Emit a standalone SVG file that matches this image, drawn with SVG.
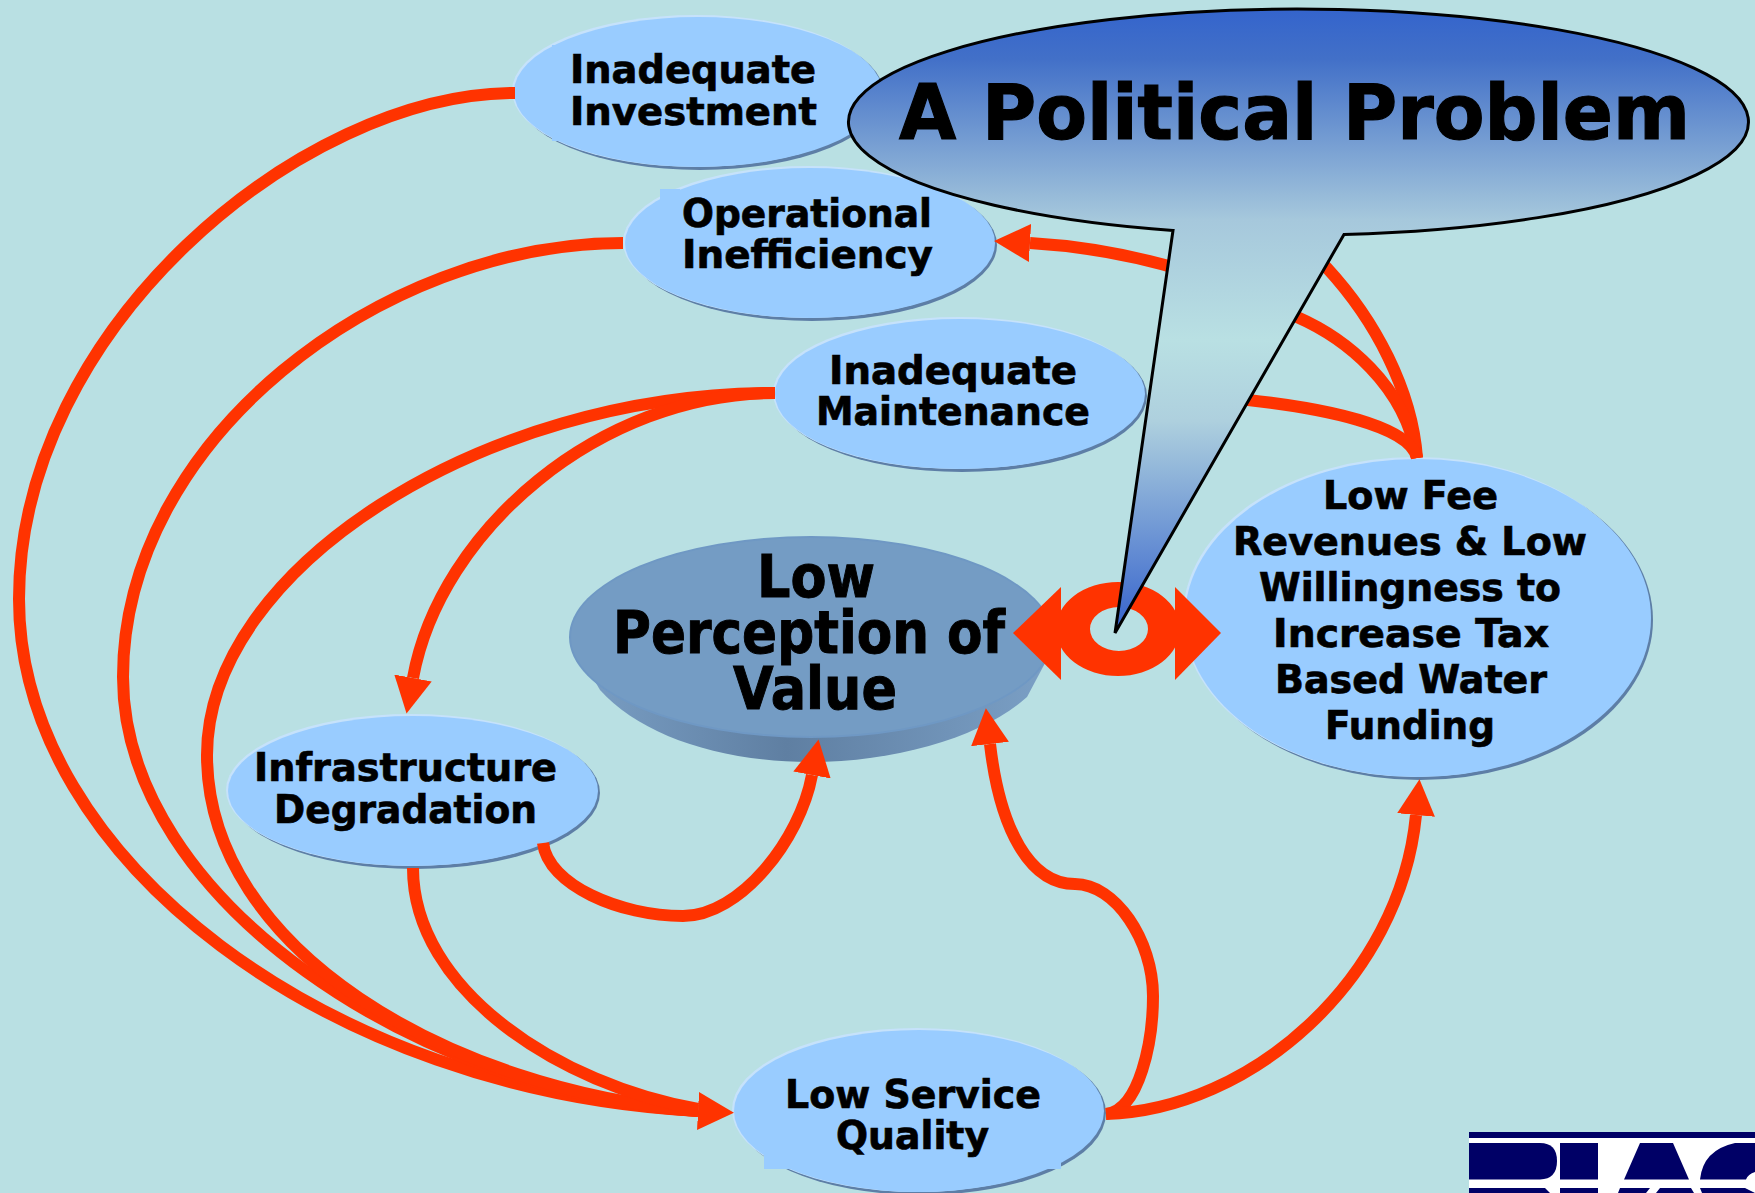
<svg xmlns="http://www.w3.org/2000/svg" width="1755" height="1193" viewBox="0 0 1755 1193">
<style>
.t{font-family:"DejaVu Sans","Liberation Sans",sans-serif;font-weight:700;fill:#000;stroke:#000;stroke-width:.7px;font-size:39px}
.b{font-size:58px;stroke-width:1px}
.h{font-size:76px;stroke-width:1.200px}
.m{fill:#99ccff}
.s{fill:#5d7ea6}
.l{fill:#c6e2fb}
.c{fill:none;stroke:#ff3300;stroke-width:12}
.a{marker-end:url(#arrow)}
.e{fill:#ff3300}
.n{fill:#000066}
</style>
<defs>
<marker id="arrow" markerUnits="userSpaceOnUse" markerWidth="38" markerHeight="40" refX="0" refY="20" orient="auto" viewBox="0 0 38 40"><path d="M0,1 L36,20 L0,39 Z" fill="#ff3300"/></marker>
<linearGradient id="callout" gradientUnits="userSpaceOnUse" x1="0" y1="9" x2="0" y2="633">
<stop offset="0" stop-color="#3464cc"/><stop offset="0.08" stop-color="#4270c8"/><stop offset="0.338" stop-color="#a6c8dc"/><stop offset="0.53" stop-color="#b9e0e3"/><stop offset="0.66" stop-color="#aed0de"/><stop offset="1" stop-color="#3562cc"/>
</linearGradient>
<linearGradient id="rim" x1="0" y1="0" x2="1" y2="0"><stop offset="0" stop-color="#7ba0c6"/><stop offset="0.45" stop-color="#5f7fa2"/><stop offset="1" stop-color="#7ba0c6"/></linearGradient>
</defs>
<rect width="1755" height="1193" fill="#b9e0e3"/>

<g id="logo">
<rect x="1469" y="1132" width="286" height="61" fill="#fff"/>
<rect class="n" x="1469" y="1132" width="286" height="6"/>
<path class="n" d="M1469,1143H1540Q1557,1143 1557,1161Q1557,1179 1540,1179.500H1469Z"/>
<rect class="n" x="1560" y="1143" width="38" height="36.500"/>
<path class="n" d="M1640,1143H1673L1689,1179.500H1624Z"/>
<path class="n" d="M1700,1179.500Q1703,1150 1735,1143H1755V1172Q1748,1174 1746,1179.500Z"/>
<path class="n" d="M1469,1188H1545L1550,1193H1469Z"/>
<rect class="n" x="1560" y="1188" width="38" height="5"/>
<path class="n" d="M1620,1188H1650L1646,1193H1618ZM1660,1188H1691L1694,1193H1656Z"/>
<path class="n" d="M1700,1188H1745L1755,1193H1702Z"/>
</g>

<g id="node-investment">
<ellipse class="s" cx="700" cy="94" rx="184" ry="76"/><ellipse class="l" cx="696" cy="91" rx="184" ry="76"/><ellipse class="m" cx="698" cy="92" rx="184" ry="75"/>
<rect class="m" x="552" y="45" width="14" height="12"/><rect class="m" x="552" y="129" width="14" height="12"/>
<text class="t" x="570" y="83" textLength="246" lengthAdjust="spacingAndGlyphs">Inadequate</text>
<text class="t" x="570" y="125" textLength="247" lengthAdjust="spacingAndGlyphs">Investment</text>
</g>
<g id="node-operational">
<ellipse class="s" cx="812" cy="245" rx="185" ry="76"/><ellipse class="l" cx="808" cy="242" rx="185" ry="76"/><ellipse class="m" cx="810" cy="243" rx="185" ry="75"/>
<rect class="m" x="660" y="189" width="20" height="12"/>
<text class="t" x="682" y="227" textLength="250" lengthAdjust="spacingAndGlyphs">Operational</text>
<text class="t" x="682" y="268" textLength="251" lengthAdjust="spacingAndGlyphs">Inefficiency</text>
</g>
<g id="node-maintenance">
<ellipse class="s" cx="962" cy="396" rx="185" ry="76"/><ellipse class="l" cx="958" cy="393" rx="185" ry="76"/><ellipse class="m" cx="960" cy="394" rx="185" ry="75"/>
<text class="t" x="829" y="384" textLength="248" lengthAdjust="spacingAndGlyphs">Inadequate</text>
<text class="t" x="816" y="425" textLength="274" lengthAdjust="spacingAndGlyphs">Maintenance</text>
</g>
<g id="node-infrastructure">
<ellipse class="s" cx="415" cy="793" rx="185" ry="76"/><ellipse class="l" cx="411" cy="790" rx="185" ry="76"/><ellipse class="m" cx="413" cy="791" rx="185" ry="75"/>
<text class="t" x="254" y="781" textLength="303" lengthAdjust="spacingAndGlyphs">Infrastructure</text>
<text class="t" x="274" y="823" textLength="263" lengthAdjust="spacingAndGlyphs">Degradation</text>
</g>
<g id="node-service">
<ellipse class="s" cx="921" cy="1113" rx="185" ry="82"/><ellipse class="l" cx="917" cy="1110" rx="185" ry="82"/><ellipse class="m" cx="919" cy="1111" rx="185" ry="81"/>
<rect class="m" x="764" y="1150" width="30" height="19"/><rect class="m" x="1040" y="1150" width="21" height="19"/>
<text class="t" x="785" y="1108" textLength="256" lengthAdjust="spacingAndGlyphs">Low Service</text>
<text class="t" x="836" y="1149" textLength="153" lengthAdjust="spacingAndGlyphs">Quality</text>
</g>
<g id="node-revenue">
<ellipse class="s" cx="1420" cy="620" rx="233" ry="160"/><ellipse class="l" cx="1416" cy="617" rx="233" ry="160"/><ellipse class="m" cx="1418" cy="618" rx="233" ry="159"/>
<text class="t" x="1323" y="509" textLength="175" lengthAdjust="spacingAndGlyphs">Low Fee</text>
<text class="t" x="1233" y="555" textLength="354" lengthAdjust="spacingAndGlyphs">Revenues &amp; Low</text>
<text class="t" x="1259" y="601" textLength="302" lengthAdjust="spacingAndGlyphs">Willingness to</text>
<text class="t" x="1273" y="647" textLength="276" lengthAdjust="spacingAndGlyphs">Increase Tax</text>
<text class="t" x="1275" y="693" textLength="272" lengthAdjust="spacingAndGlyphs">Based Water</text>
<text class="t" x="1325" y="739" textLength="170" lengthAdjust="spacingAndGlyphs">Funding</text>
</g>
<g id="node-perception">
<path fill="url(#rim)" d="M569,637 L600,690 C640,735 720,762 810,762 C900,762 985,735 1027,697 L1052,650 Z"/>
<ellipse cx="811" cy="637" rx="242" ry="101" fill="#6f98c4"/><ellipse cx="811" cy="637" rx="240" ry="99" fill="#749cc4"/>
<text class="t b" x="757" y="597" textLength="118" lengthAdjust="spacingAndGlyphs">Low</text>
<text class="t b" x="613" y="653" textLength="392" lengthAdjust="spacingAndGlyphs">Perception of</text>
<text class="t b" x="733" y="709" textLength="164" lengthAdjust="spacingAndGlyphs">Value</text>
</g>

<g id="connectors">
<path class="c a" d="M515,93 C300,93 19,330 19,599 C19,860 330,1092 698,1111"/>
<path class="c" d="M623,243 C380,243 123,440 123,677 C123,900 420,1095 698,1111"/>
<path class="c" d="M775,393 C480,393 207,570 207,755 C207,950 450,1090 698,1111"/>
<path class="c a" d="M775,393 C600,393 440,530 413,678"/>
<path class="c" d="M413,868 C413,990 560,1085 698,1109"/>
<path class="c a" d="M543,843 C548,885 620,916 683,916 C740,916 800,840 812,775"/>
<path class="c a" d="M1106,1114 C1140,1110 1153,1040 1153,996 C1153,940 1115,884 1075,884 C1030,884 1000,830 990,744"/>
<path class="c a" d="M1106,1114 C1250,1110 1400,980 1416,815"/>
<path class="c" d="M1417,458 C1412,390 1375,320 1327,268 L1290,235"/>
<path class="c a" d="M1417,458 C1405,385 1345,338 1297,317 C1250,290 1150,250 1030,243"/>
<path class="c a" d="M1417,458 C1410,425 1320,408 1248,400 L1184,394"/>
<g id="link-perception-revenue">
<path class="e" fill-rule="evenodd" d="M1056,629 A62,47 0 1 1 1180,629 A62,47 0 1 1 1056,629 Z M1090,629 A29,22 0 1 0 1148,629 A29,22 0 1 0 1090,629 Z"/>
<path class="e" d="M1013,633 L1061,587 V680 Z"/>
<path class="e" d="M1221,633 L1175,587 V680 Z"/>
</g>
</g>

<g id="callout">
<path fill="url(#callout)" stroke="#000" stroke-width="3" stroke-linejoin="miter" d="M1173,230.500 L1115,633 L1344,234.400 A450,113 0 1 0 1173,230.500 Z"/>
<text class="t h" x="899" y="139" textLength="791" lengthAdjust="spacingAndGlyphs">A Political Problem</text>
</g>
</svg>
